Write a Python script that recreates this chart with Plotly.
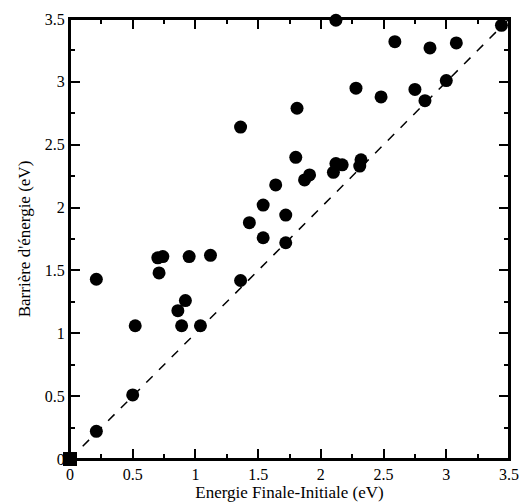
import plotly.graph_objects as go

# Energy difference (final - initial) and barrier, in eV
delta_e = [0.21, 0.21, 0.50, 0.52, 0.70, 0.74, 0.71, 0.86, 0.92, 0.89, 0.95,
           1.04, 1.12, 1.36, 1.36, 1.43, 1.54, 1.54, 1.64, 1.72, 1.72, 1.80,
           1.81, 1.87, 1.91, 2.10, 2.12, 2.17, 2.12, 2.28, 2.31, 2.32, 2.48,
           2.59, 2.75, 2.83, 2.87, 3.00, 3.08, 3.44]
barrier = [0.22, 1.43, 0.51, 1.06, 1.60, 1.61, 1.48, 1.18, 1.26, 1.06, 1.61,
           1.06, 1.62, 1.42, 2.64, 1.88, 2.02, 1.76, 2.18, 1.94, 1.72, 2.40,
           2.79, 2.22, 2.26, 2.28, 2.35, 2.34, 3.49, 2.95, 2.33, 2.38, 2.88,
           3.32, 2.94, 2.85, 3.27, 3.01, 3.31, 3.45]
origin_x = [0]
origin_y = [0]
diag = [0, 3.5]
tick_step = 0.5

fig = go.Figure()

# y = x reference line
fig.add_trace(go.Scatter(
    x=diag, y=diag, mode="lines",
    line=dict(color="black", width=1.5, dash="dash"),
    showlegend=False, hoverinfo="skip",
))

fig.add_trace(go.Scatter(
    x=delta_e, y=barrier, mode="markers",
    marker=dict(color="black", size=13, symbol="circle"),
    cliponaxis=False, showlegend=False,
))

fig.add_trace(go.Scatter(
    x=origin_x, y=origin_y, mode="markers",
    marker=dict(color="black", size=14, symbol="square"),
    cliponaxis=False, showlegend=False,
))

axis = dict(
    range=[0, 3.5], dtick=tick_step, ticks="inside", ticklen=10,
    tickwidth=1.5, tickcolor="black", showline=True, linecolor="black",
    linewidth=2, mirror="ticks", showgrid=False, zeroline=False,
    minor=dict(dtick=tick_step / 2, ticks="inside", ticklen=5,
               tickwidth=1.5, tickcolor="black"),
)

# the page body has an 8px margin, so the figure is shrunk and shifted by it
fig.update_layout(
    width=523,
    height=494,
    margin=dict(l=62, r=22, t=11, b=43, autoexpand=False),
    plot_bgcolor="white",
    paper_bgcolor="white",
    font=dict(family="Liberation Serif", size=16, color="black"),
    xaxis=dict(axis, title=dict(text="Energie Finale-Initiale (eV)",
                                standoff=2, font=dict(size=17))),
    yaxis=dict(axis, title=dict(text="Barrière d'énergie (eV)",
                                standoff=10, font=dict(size=17))),
    shapes=[dict(type="rect", xref="paper", yref="paper", x0=0, y0=0,
                 x1=1, y1=1, line=dict(color="black", width=2),
                 layer="above")],
)

fig.write_html("out.html")
